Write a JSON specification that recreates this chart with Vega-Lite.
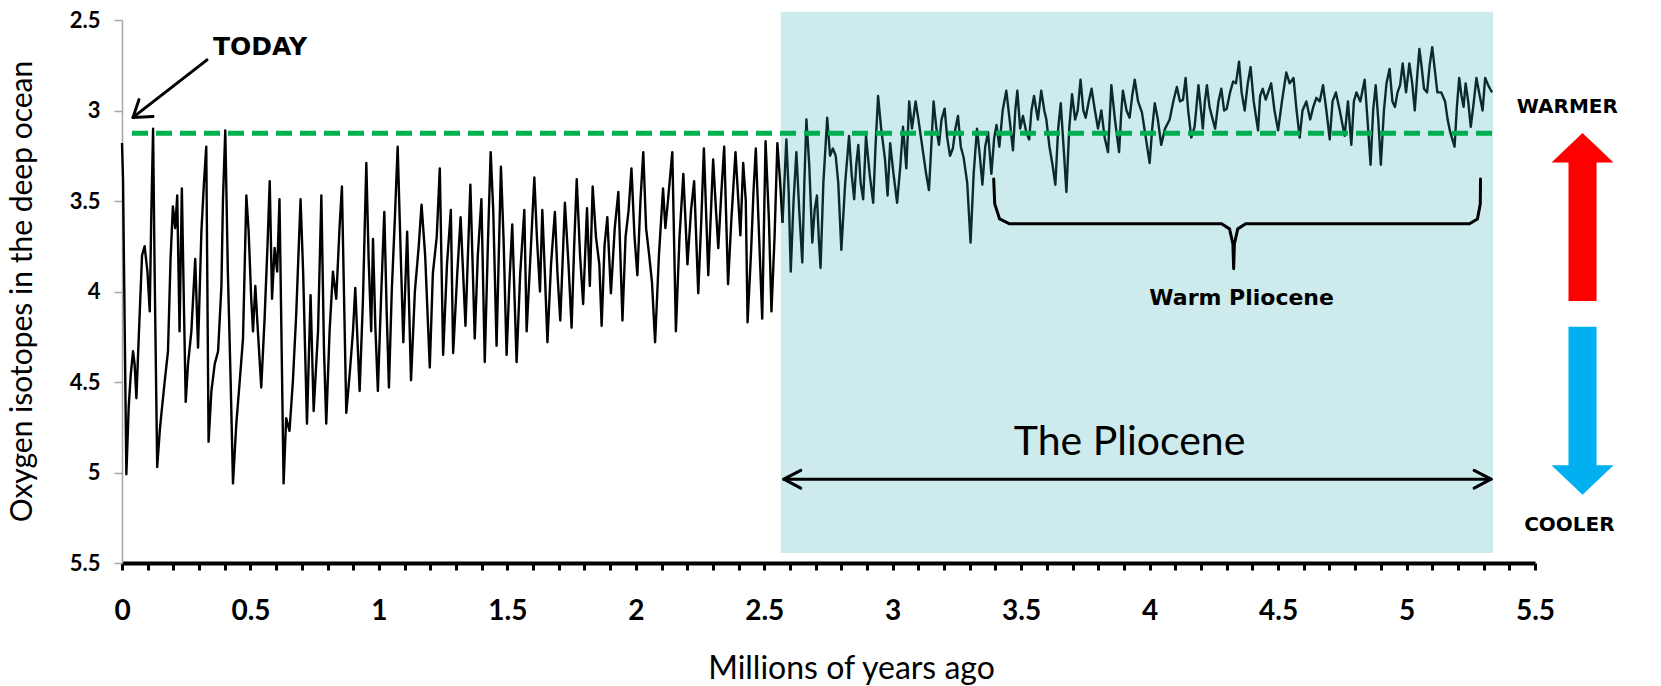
{
"$schema": "https://vega.github.io/schema/vega-lite/v6.json",
"width": 1413, "height": 543,
"autosize": {"type": "none"},
"padding": {"left": 122, "top": 20, "right": 126, "bottom": 123},
"background": "white",
"config": {"view": {"stroke": null}},
"encoding": {
  "x": {"field": "x", "type": "quantitative",
    "scale": {"domain": [0, 5.5], "nice": false, "zero": false},
    "axis": {"title": "Millions of years ago", "grid": false,
      "values": [0,0.1,0.2,0.3,0.4,0.5,0.6,0.7,0.8,0.9,1,1.1,1.2,1.3,1.4,1.5,1.6,1.7,1.8,1.9,2,2.1,2.2,2.3,2.4,2.5,2.6,2.7,2.8,2.9,3,3.1,3.2,3.3,3.4,3.5,3.6,3.7,3.8,3.9,4,4.1,4.2,4.3,4.4,4.5,4.6,4.7,4.8,4.9,5,5.1,5.2,5.3,5.4,5.5],
      "labelExpr": "abs(datum.value*2 - round(datum.value*2)) < 0.001 ? '' + datum.value : ''",
      "labelOverlap": false, "labelFlush": false,
      "labelFont": "Lato", "labelFontWeight": "bold", "labelFontSize": 28, "labelColor": "#000000",
      "labelBaseline": "middle", "labelPadding": 41,
      "domainColor": "#000000", "domainWidth": 4, "tickColor": "#000000", "tickWidth": 3, "tickSize": 7,
      "titleFont": "Lato", "titleFontWeight": "normal", "titleFontSize": 32, "titleColor": "#000000",
      "titleX": 729, "titleY": 115, "titleBaseline": "alphabetic"}},
  "y": {"field": "y", "type": "quantitative",
    "scale": {"domain": [2.5, 5.5], "nice": false, "zero": false, "reverse": true},
    "axis": {"title": "Oxygen isotopes in the deep ocean", "grid": false,
      "values": [2.5,3,3.5,4,4.5,5,5.5],
      "labelExpr": "'' + datum.value",
      "labelFont": "Lato", "labelFontWeight": "bold", "labelFontSize": 22, "labelColor": "#000000",
      "labelPadding": 14, "labelOverlap": false, "labelFlush": false,
      "domainColor": "#a6a6a6", "domainWidth": 1.5, "tickColor": "#a6a6a6", "tickWidth": 1.5, "tickSize": 8,
      "titleFont": "Lato", "titleFontWeight": "normal", "titleFontSize": 30, "titleColor": "#000000",
      "titleX": -91, "titleY": 271, "titleBaseline": "alphabetic", "titleAngle": -90}}
},
"layer": [
  {"data": {"values": [{"x": 2.564, "x2": 5.337, "y": 2.454, "y2": 5.445}]},
   "mark": {"type": "rect", "color": "#cdeaed"},
   "encoding": {"x2": {"field": "x2"}, "y2": {"field": "y2"}}},
  {"data": {"values": [
{"x":0,"y":3.18,"seg":"a"},{"x":0.004,"y":3.38,"seg":"a"},{"x":0.017,"y":5.01,"seg":"a"},{"x":0.026,"y":4.64,"seg":"a"},{"x":0.034,"y":4.46,"seg":"a"},{"x":0.043,"y":4.33,"seg":"a"},{"x":0.049,"y":4.40,"seg":"a"},{"x":0.056,"y":4.59,"seg":"a"},{"x":0.065,"y":4.26,"seg":"a"},{"x":0.078,"y":3.80,"seg":"a"},{"x":0.088,"y":3.75,"seg":"a"},{"x":0.099,"y":3.89,"seg":"a"},{"x":0.108,"y":4.11,"seg":"a"},{"x":0.114,"y":3.58,"seg":"a"},{"x":0.121,"y":3.10,"seg":"a"},{"x":0.127,"y":3.89,"seg":"a"},{"x":0.137,"y":4.97,"seg":"a"},{"x":0.147,"y":4.77,"seg":"a"},{"x":0.153,"y":4.68,"seg":"a"},{"x":0.166,"y":4.50,"seg":"a"},{"x":0.179,"y":4.33,"seg":"a"},{"x":0.189,"y":3.82,"seg":"a"},{"x":0.198,"y":3.53,"seg":"a"},{"x":0.207,"y":3.65,"seg":"a"},{"x":0.215,"y":3.47,"seg":"a"},{"x":0.224,"y":4.22,"seg":"a"},{"x":0.233,"y":3.43,"seg":"a"},{"x":0.241,"y":4.08,"seg":"a"},{"x":0.248,"y":4.61,"seg":"a"},{"x":0.257,"y":4.40,"seg":"a"},{"x":0.270,"y":4.22,"seg":"a"},{"x":0.285,"y":3.82,"seg":"a"},{"x":0.296,"y":4.31,"seg":"a"},{"x":0.309,"y":3.67,"seg":"a"},{"x":0.319,"y":3.40,"seg":"a"},{"x":0.328,"y":3.20,"seg":"a"},{"x":0.337,"y":4.83,"seg":"a"},{"x":0.348,"y":4.55,"seg":"a"},{"x":0.361,"y":4.40,"seg":"a"},{"x":0.374,"y":4.33,"seg":"a"},{"x":0.387,"y":3.97,"seg":"a"},{"x":0.393,"y":3.49,"seg":"a"},{"x":0.402,"y":3.11,"seg":"a"},{"x":0.412,"y":3.89,"seg":"a"},{"x":0.423,"y":4.50,"seg":"a"},{"x":0.432,"y":5.06,"seg":"a"},{"x":0.445,"y":4.73,"seg":"a"},{"x":0.458,"y":4.50,"seg":"a"},{"x":0.471,"y":4.26,"seg":"a"},{"x":0.484,"y":3.47,"seg":"a"},{"x":0.493,"y":3.67,"seg":"a"},{"x":0.503,"y":4.04,"seg":"a"},{"x":0.510,"y":4.22,"seg":"a"},{"x":0.519,"y":3.97,"seg":"a"},{"x":0.529,"y":4.22,"seg":"a"},{"x":0.542,"y":4.53,"seg":"a"},{"x":0.555,"y":4.15,"seg":"a"},{"x":0.566,"y":3.76,"seg":"a"},{"x":0.575,"y":3.39,"seg":"a"},{"x":0.584,"y":4.04,"seg":"a"},{"x":0.594,"y":3.76,"seg":"a"},{"x":0.604,"y":3.89,"seg":"a"},{"x":0.613,"y":3.49,"seg":"a"},{"x":0.629,"y":5.06,"seg":"a"},{"x":0.639,"y":4.70,"seg":"a"},{"x":0.652,"y":4.77,"seg":"a"},{"x":0.665,"y":4.50,"seg":"a"},{"x":0.678,"y":4.13,"seg":"a"},{"x":0.695,"y":3.49,"seg":"a"},{"x":0.705,"y":3.89,"seg":"a"},{"x":0.720,"y":4.73,"seg":"a"},{"x":0.734,"y":4.02,"seg":"a"},{"x":0.746,"y":4.66,"seg":"a"},{"x":0.763,"y":4.22,"seg":"a"},{"x":0.776,"y":3.47,"seg":"a"},{"x":0.786,"y":4.31,"seg":"a"},{"x":0.795,"y":4.73,"seg":"a"},{"x":0.808,"y":4.22,"seg":"a"},{"x":0.821,"y":3.89,"seg":"a"},{"x":0.834,"y":4.04,"seg":"a"},{"x":0.847,"y":3.64,"seg":"a"},{"x":0.856,"y":3.42,"seg":"a"},{"x":0.873,"y":4.67,"seg":"a"},{"x":0.886,"y":4.46,"seg":"a"},{"x":0.899,"y":4.22,"seg":"a"},{"x":0.908,"y":3.98,"seg":"a"},{"x":0.925,"y":4.55,"seg":"a"},{"x":0.938,"y":4.04,"seg":"a"},{"x":0.951,"y":3.29,"seg":"a"},{"x":0.960,"y":3.82,"seg":"a"},{"x":0.970,"y":4.22,"seg":"a"},{"x":0.977,"y":3.71,"seg":"a"},{"x":0.986,"y":4.19,"seg":"a"},{"x":0.996,"y":4.55,"seg":"a"},{"x":1.008,"y":4.05,"seg":"a"},{"x":1.021,"y":3.56,"seg":"a"},{"x":1.030,"y":4.10,"seg":"a"},{"x":1.039,"y":4.53,"seg":"a"},{"x":1.050,"y":4.00,"seg":"a"},{"x":1.062,"y":3.60,"seg":"a"},{"x":1.073,"y":3.20,"seg":"a"},{"x":1.085,"y":3.80,"seg":"a"},{"x":1.095,"y":4.28,"seg":"a"},{"x":1.110,"y":3.67,"seg":"a"},{"x":1.125,"y":4.49,"seg":"a"},{"x":1.140,"y":4.00,"seg":"a"},{"x":1.155,"y":3.75,"seg":"a"},{"x":1.166,"y":3.52,"seg":"a"},{"x":1.180,"y":3.80,"seg":"a"},{"x":1.198,"y":4.42,"seg":"a"},{"x":1.210,"y":3.90,"seg":"a"},{"x":1.225,"y":3.70,"seg":"a"},{"x":1.237,"y":3.32,"seg":"a"},{"x":1.250,"y":4.35,"seg":"a"},{"x":1.265,"y":3.85,"seg":"a"},{"x":1.280,"y":3.55,"seg":"a"},{"x":1.289,"y":4.34,"seg":"a"},{"x":1.305,"y":3.90,"seg":"a"},{"x":1.318,"y":3.59,"seg":"a"},{"x":1.337,"y":4.19,"seg":"a"},{"x":1.356,"y":3.41,"seg":"a"},{"x":1.373,"y":4.26,"seg":"a"},{"x":1.385,"y":3.80,"seg":"a"},{"x":1.399,"y":3.49,"seg":"a"},{"x":1.412,"y":4.39,"seg":"a"},{"x":1.425,"y":3.70,"seg":"a"},{"x":1.435,"y":3.23,"seg":"a"},{"x":1.445,"y":3.55,"seg":"a"},{"x":1.458,"y":4.30,"seg":"a"},{"x":1.475,"y":3.31,"seg":"a"},{"x":1.485,"y":3.70,"seg":"a"},{"x":1.497,"y":4.35,"seg":"a"},{"x":1.508,"y":3.95,"seg":"a"},{"x":1.519,"y":3.63,"seg":"a"},{"x":1.536,"y":4.39,"seg":"a"},{"x":1.550,"y":3.90,"seg":"a"},{"x":1.566,"y":3.55,"seg":"a"},{"x":1.575,"y":4.22,"seg":"a"},{"x":1.590,"y":3.80,"seg":"a"},{"x":1.605,"y":3.37,"seg":"a"},{"x":1.615,"y":3.70,"seg":"a"},{"x":1.627,"y":4.00,"seg":"a"},{"x":1.636,"y":3.55,"seg":"a"},{"x":1.646,"y":3.90,"seg":"a"},{"x":1.656,"y":4.28,"seg":"a"},{"x":1.670,"y":3.85,"seg":"a"},{"x":1.685,"y":3.56,"seg":"a"},{"x":1.695,"y":3.90,"seg":"a"},{"x":1.706,"y":4.16,"seg":"a"},{"x":1.724,"y":3.51,"seg":"a"},{"x":1.738,"y":3.85,"seg":"a"},{"x":1.750,"y":4.20,"seg":"a"},{"x":1.760,"y":3.75,"seg":"a"},{"x":1.770,"y":3.38,"seg":"a"},{"x":1.783,"y":3.80,"seg":"a"},{"x":1.795,"y":4.07,"seg":"a"},{"x":1.810,"y":3.54,"seg":"a"},{"x":1.821,"y":3.97,"seg":"a"},{"x":1.832,"y":3.42,"seg":"a"},{"x":1.845,"y":3.70,"seg":"a"},{"x":1.858,"y":3.85,"seg":"a"},{"x":1.867,"y":4.19,"seg":"a"},{"x":1.878,"y":3.75,"seg":"a"},{"x":1.889,"y":3.59,"seg":"a"},{"x":1.903,"y":4.01,"seg":"a"},{"x":1.918,"y":3.65,"seg":"a"},{"x":1.932,"y":3.45,"seg":"a"},{"x":1.948,"y":4.16,"seg":"a"},{"x":1.960,"y":3.70,"seg":"a"},{"x":1.972,"y":3.55,"seg":"a"},{"x":1.983,"y":3.32,"seg":"a"},{"x":1.995,"y":3.70,"seg":"a"},{"x":2.006,"y":3.91,"seg":"a"},{"x":2.018,"y":3.50,"seg":"a"},{"x":2.029,"y":3.23,"seg":"a"},{"x":2.040,"y":3.65,"seg":"a"},{"x":2.052,"y":3.80,"seg":"a"},{"x":2.063,"y":3.95,"seg":"a"},{"x":2.075,"y":4.28,"seg":"a"},{"x":2.090,"y":3.80,"seg":"a"},{"x":2.106,"y":3.43,"seg":"a"},{"x":2.115,"y":3.65,"seg":"a"},{"x":2.125,"y":3.50,"seg":"a"},{"x":2.142,"y":3.23,"seg":"a"},{"x":2.156,"y":4.22,"seg":"a"},{"x":2.170,"y":3.70,"seg":"a"},{"x":2.185,"y":3.35,"seg":"a"},{"x":2.201,"y":3.85,"seg":"a"},{"x":2.215,"y":3.55,"seg":"a"},{"x":2.227,"y":3.39,"seg":"a"},{"x":2.243,"y":4.01,"seg":"a"},{"x":2.255,"y":3.60,"seg":"a"},{"x":2.265,"y":3.21,"seg":"a"},{"x":2.282,"y":3.91,"seg":"a"},{"x":2.301,"y":3.27,"seg":"a"},{"x":2.312,"y":3.55,"seg":"a"},{"x":2.321,"y":3.76,"seg":"a"},{"x":2.333,"y":3.45,"seg":"a"},{"x":2.344,"y":3.20,"seg":"a"},{"x":2.359,"y":3.96,"seg":"a"},{"x":2.372,"y":3.60,"seg":"a"},{"x":2.388,"y":3.23,"seg":"a"},{"x":2.407,"y":3.69,"seg":"a"},{"x":2.418,"y":3.29,"seg":"a"},{"x":2.428,"y":3.50,"seg":"a"},{"x":2.435,"y":4.17,"seg":"a"},{"x":2.448,"y":3.80,"seg":"a"},{"x":2.458,"y":3.45,"seg":"a"},{"x":2.467,"y":3.21,"seg":"a"},{"x":2.480,"y":3.70,"seg":"a"},{"x":2.492,"y":4.15,"seg":"a"},{"x":2.505,"y":3.17,"seg":"a"},{"x":2.518,"y":3.60,"seg":"a"},{"x":2.528,"y":4.11,"seg":"a"},{"x":2.540,"y":3.70,"seg":"a"},{"x":2.551,"y":3.18,"seg":"a"},{"x":2.562,"y":3.40,"seg":"a"},{"x":2.571,"y":3.62,"seg":"a"},
{"x":2.571,"y":3.62,"seg":"b"},{"x":2.586,"y":3.16,"seg":"b"},{"x":2.595,"y":3.45,"seg":"b"},{"x":2.603,"y":3.89,"seg":"b"},{"x":2.614,"y":3.50,"seg":"b"},{"x":2.625,"y":3.23,"seg":"b"},{"x":2.636,"y":3.55,"seg":"b"},{"x":2.648,"y":3.84,"seg":"b"},{"x":2.656,"y":3.40,"seg":"b"},{"x":2.664,"y":3.05,"seg":"b"},{"x":2.675,"y":3.30,"seg":"b"},{"x":2.687,"y":3.73,"seg":"b"},{"x":2.696,"y":3.55,"seg":"b"},{"x":2.705,"y":3.47,"seg":"b"},{"x":2.712,"y":3.70,"seg":"b"},{"x":2.719,"y":3.87,"seg":"b"},{"x":2.730,"y":3.40,"seg":"b"},{"x":2.745,"y":3.04,"seg":"b"},{"x":2.756,"y":3.25,"seg":"b"},{"x":2.767,"y":3.21,"seg":"b"},{"x":2.778,"y":3.25,"seg":"b"},{"x":2.788,"y":3.40,"seg":"b"},{"x":2.800,"y":3.77,"seg":"b"},{"x":2.815,"y":3.40,"seg":"b"},{"x":2.830,"y":3.14,"seg":"b"},{"x":2.840,"y":3.35,"seg":"b"},{"x":2.850,"y":3.49,"seg":"b"},{"x":2.858,"y":3.30,"seg":"b"},{"x":2.866,"y":3.19,"seg":"b"},{"x":2.875,"y":3.40,"seg":"b"},{"x":2.885,"y":3.49,"seg":"b"},{"x":2.896,"y":3.14,"seg":"b"},{"x":2.910,"y":3.35,"seg":"b"},{"x":2.924,"y":3.51,"seg":"b"},{"x":2.933,"y":3.20,"seg":"b"},{"x":2.943,"y":2.92,"seg":"b"},{"x":2.955,"y":3.10,"seg":"b"},{"x":2.970,"y":3.27,"seg":"b"},{"x":2.980,"y":3.47,"seg":"b"},{"x":2.990,"y":3.18,"seg":"b"},{"x":3.003,"y":3.35,"seg":"b"},{"x":3.017,"y":3.51,"seg":"b"},{"x":3.030,"y":3.30,"seg":"b"},{"x":3.040,"y":3.09,"seg":"b"},{"x":3.053,"y":3.32,"seg":"b"},{"x":3.064,"y":2.95,"seg":"b"},{"x":3.075,"y":3.10,"seg":"b"},{"x":3.089,"y":2.95,"seg":"b"},{"x":3.100,"y":3.05,"seg":"b"},{"x":3.115,"y":3.20,"seg":"b"},{"x":3.130,"y":3.35,"seg":"b"},{"x":3.141,"y":3.44,"seg":"b"},{"x":3.150,"y":3.20,"seg":"b"},{"x":3.159,"y":2.95,"seg":"b"},{"x":3.170,"y":3.10,"seg":"b"},{"x":3.180,"y":3.19,"seg":"b"},{"x":3.190,"y":3.05,"seg":"b"},{"x":3.202,"y":2.99,"seg":"b"},{"x":3.212,"y":3.15,"seg":"b"},{"x":3.223,"y":3.25,"seg":"b"},{"x":3.234,"y":3.21,"seg":"b"},{"x":3.244,"y":3.10,"seg":"b"},{"x":3.254,"y":3.03,"seg":"b"},{"x":3.265,"y":3.20,"seg":"b"},{"x":3.276,"y":3.26,"seg":"b"},{"x":3.290,"y":3.40,"seg":"b"},{"x":3.303,"y":3.73,"seg":"b"},{"x":3.315,"y":3.35,"seg":"b"},{"x":3.328,"y":3.10,"seg":"b"},{"x":3.339,"y":3.25,"seg":"b"},{"x":3.349,"y":3.41,"seg":"b"},{"x":3.360,"y":3.20,"seg":"b"},{"x":3.371,"y":3.12,"seg":"b"},{"x":3.384,"y":3.35,"seg":"b"},{"x":3.395,"y":3.15,"seg":"b"},{"x":3.404,"y":3.08,"seg":"b"},{"x":3.415,"y":3.20,"seg":"b"},{"x":3.428,"y":3.00,"seg":"b"},{"x":3.442,"y":2.89,"seg":"b"},{"x":3.455,"y":3.05,"seg":"b"},{"x":3.468,"y":3.22,"seg":"b"},{"x":3.477,"y":3.00,"seg":"b"},{"x":3.485,"y":2.89,"seg":"b"},{"x":3.496,"y":3.10,"seg":"b"},{"x":3.507,"y":3.03,"seg":"b"},{"x":3.520,"y":3.12,"seg":"b"},{"x":3.531,"y":3.16,"seg":"b"},{"x":3.540,"y":3.00,"seg":"b"},{"x":3.550,"y":2.92,"seg":"b"},{"x":3.565,"y":3.05,"seg":"b"},{"x":3.578,"y":2.89,"seg":"b"},{"x":3.590,"y":3.00,"seg":"b"},{"x":3.598,"y":3.05,"seg":"b"},{"x":3.610,"y":3.20,"seg":"b"},{"x":3.622,"y":3.30,"seg":"b"},{"x":3.633,"y":3.41,"seg":"b"},{"x":3.644,"y":3.10,"seg":"b"},{"x":3.654,"y":2.96,"seg":"b"},{"x":3.665,"y":3.20,"seg":"b"},{"x":3.676,"y":3.45,"seg":"b"},{"x":3.687,"y":3.10,"seg":"b"},{"x":3.698,"y":2.91,"seg":"b"},{"x":3.710,"y":3.05,"seg":"b"},{"x":3.720,"y":3.00,"seg":"b"},{"x":3.731,"y":2.83,"seg":"b"},{"x":3.742,"y":3.00,"seg":"b"},{"x":3.751,"y":3.04,"seg":"b"},{"x":3.763,"y":2.95,"seg":"b"},{"x":3.774,"y":2.88,"seg":"b"},{"x":3.787,"y":3.00,"seg":"b"},{"x":3.799,"y":3.10,"seg":"b"},{"x":3.812,"y":3.00,"seg":"b"},{"x":3.825,"y":3.15,"seg":"b"},{"x":3.838,"y":3.23,"seg":"b"},{"x":3.851,"y":2.86,"seg":"b"},{"x":3.865,"y":3.05,"seg":"b"},{"x":3.881,"y":3.23,"seg":"b"},{"x":3.890,"y":3.00,"seg":"b"},{"x":3.896,"y":2.89,"seg":"b"},{"x":3.910,"y":3.00,"seg":"b"},{"x":3.922,"y":3.04,"seg":"b"},{"x":3.932,"y":2.92,"seg":"b"},{"x":3.942,"y":2.83,"seg":"b"},{"x":3.955,"y":2.95,"seg":"b"},{"x":3.970,"y":3.01,"seg":"b"},{"x":3.985,"y":3.15,"seg":"b"},{"x":4.000,"y":3.29,"seg":"b"},{"x":4.010,"y":3.10,"seg":"b"},{"x":4.020,"y":2.96,"seg":"b"},{"x":4.032,"y":3.05,"seg":"b"},{"x":4.045,"y":3.19,"seg":"b"},{"x":4.060,"y":3.10,"seg":"b"},{"x":4.078,"y":3.05,"seg":"b"},{"x":4.092,"y":2.95,"seg":"b"},{"x":4.106,"y":2.87,"seg":"b"},{"x":4.118,"y":2.95,"seg":"b"},{"x":4.130,"y":2.94,"seg":"b"},{"x":4.140,"y":2.82,"seg":"b"},{"x":4.150,"y":3.00,"seg":"b"},{"x":4.162,"y":3.15,"seg":"b"},{"x":4.175,"y":3.09,"seg":"b"},{"x":4.190,"y":2.86,"seg":"b"},{"x":4.200,"y":3.00,"seg":"b"},{"x":4.207,"y":3.10,"seg":"b"},{"x":4.215,"y":2.95,"seg":"b"},{"x":4.223,"y":2.86,"seg":"b"},{"x":4.233,"y":2.98,"seg":"b"},{"x":4.242,"y":3.03,"seg":"b"},{"x":4.255,"y":3.10,"seg":"b"},{"x":4.268,"y":2.95,"seg":"b"},{"x":4.279,"y":2.88,"seg":"b"},{"x":4.290,"y":3.00,"seg":"b"},{"x":4.300,"y":2.99,"seg":"b"},{"x":4.313,"y":2.90,"seg":"b"},{"x":4.325,"y":2.84,"seg":"b"},{"x":4.336,"y":2.85,"seg":"b"},{"x":4.348,"y":2.73,"seg":"b"},{"x":4.358,"y":2.90,"seg":"b"},{"x":4.370,"y":3.00,"seg":"b"},{"x":4.382,"y":2.85,"seg":"b"},{"x":4.393,"y":2.76,"seg":"b"},{"x":4.405,"y":2.95,"seg":"b"},{"x":4.422,"y":3.11,"seg":"b"},{"x":4.430,"y":2.92,"seg":"b"},{"x":4.440,"y":2.88,"seg":"b"},{"x":4.452,"y":2.94,"seg":"b"},{"x":4.473,"y":2.85,"seg":"b"},{"x":4.486,"y":3.00,"seg":"b"},{"x":4.500,"y":3.11,"seg":"b"},{"x":4.515,"y":2.95,"seg":"b"},{"x":4.532,"y":2.79,"seg":"b"},{"x":4.545,"y":2.85,"seg":"b"},{"x":4.560,"y":2.82,"seg":"b"},{"x":4.572,"y":3.00,"seg":"b"},{"x":4.584,"y":3.15,"seg":"b"},{"x":4.595,"y":3.00,"seg":"b"},{"x":4.610,"y":2.95,"seg":"b"},{"x":4.625,"y":3.05,"seg":"b"},{"x":4.637,"y":2.98,"seg":"b"},{"x":4.649,"y":2.93,"seg":"b"},{"x":4.662,"y":2.95,"seg":"b"},{"x":4.675,"y":2.86,"seg":"b"},{"x":4.688,"y":3.00,"seg":"b"},{"x":4.701,"y":3.16,"seg":"b"},{"x":4.712,"y":2.95,"seg":"b"},{"x":4.725,"y":2.90,"seg":"b"},{"x":4.740,"y":3.00,"seg":"b"},{"x":4.759,"y":3.14,"seg":"b"},{"x":4.772,"y":2.95,"seg":"b"},{"x":4.785,"y":3.19,"seg":"b"},{"x":4.795,"y":2.95,"seg":"b"},{"x":4.805,"y":2.90,"seg":"b"},{"x":4.820,"y":2.95,"seg":"b"},{"x":4.837,"y":2.83,"seg":"b"},{"x":4.848,"y":3.05,"seg":"b"},{"x":4.860,"y":3.30,"seg":"b"},{"x":4.870,"y":3.00,"seg":"b"},{"x":4.880,"y":2.86,"seg":"b"},{"x":4.890,"y":3.05,"seg":"b"},{"x":4.900,"y":3.30,"seg":"b"},{"x":4.912,"y":3.00,"seg":"b"},{"x":4.922,"y":2.85,"seg":"b"},{"x":4.934,"y":2.77,"seg":"b"},{"x":4.945,"y":2.95,"seg":"b"},{"x":4.955,"y":2.98,"seg":"b"},{"x":4.965,"y":2.90,"seg":"b"},{"x":4.975,"y":2.86,"seg":"b"},{"x":4.985,"y":2.74,"seg":"b"},{"x":4.998,"y":2.90,"seg":"b"},{"x":5.011,"y":2.74,"seg":"b"},{"x":5.022,"y":2.85,"seg":"b"},{"x":5.032,"y":3.00,"seg":"b"},{"x":5.042,"y":2.80,"seg":"b"},{"x":5.050,"y":2.66,"seg":"b"},{"x":5.058,"y":2.75,"seg":"b"},{"x":5.068,"y":2.88,"seg":"b"},{"x":5.080,"y":2.90,"seg":"b"},{"x":5.090,"y":2.75,"seg":"b"},{"x":5.100,"y":2.65,"seg":"b"},{"x":5.112,"y":2.80,"seg":"b"},{"x":5.120,"y":2.90,"seg":"b"},{"x":5.135,"y":2.90,"seg":"b"},{"x":5.150,"y":2.95,"seg":"b"},{"x":5.160,"y":3.05,"seg":"b"},{"x":5.170,"y":3.12,"seg":"b"},{"x":5.187,"y":3.20,"seg":"b"},{"x":5.196,"y":2.98,"seg":"b"},{"x":5.205,"y":2.82,"seg":"b"},{"x":5.214,"y":2.92,"seg":"b"},{"x":5.222,"y":2.98,"seg":"b"},{"x":5.230,"y":2.85,"seg":"b"},{"x":5.240,"y":2.95,"seg":"b"},{"x":5.250,"y":3.09,"seg":"b"},{"x":5.262,"y":2.95,"seg":"b"},{"x":5.272,"y":2.82,"seg":"b"},{"x":5.285,"y":2.92,"seg":"b"},{"x":5.296,"y":3.00,"seg":"b"},{"x":5.306,"y":2.82,"seg":"b"},{"x":5.318,"y":2.86,"seg":"b"},{"x":5.325,"y":2.88,"seg":"b"},{"x":5.333,"y":2.90,"seg":"b"}
  ]},
   "mark": {"type": "line", "strokeWidth": 2.4, "strokeJoin": "round"},
   "encoding": {"color": {"field": "seg", "type": "nominal", "legend": null,
      "scale": {"domain": ["a", "b"], "range": ["#000000", "#0c2a2b"]}}}},
  {"data": {"values": [{"x": 0.039, "x2": 5.337, "y": 3.126}]},
   "mark": {"type": "rule", "color": "#00b050", "strokeWidth": 5, "strokeDash": [16, 8]},
   "encoding": {"x2": {"field": "x2"}}},
  {"data": {"values": [
    {"id": "today", "o": 1, "x": 0.331, "y": 2.720}, {"id": "today", "o": 2, "x": 0.0428, "y": 3.038},
    {"id": "todayhead", "o": 1, "x": 0.1206, "y": 3.033}, {"id": "todayhead", "o": 2, "x": 0.0428, "y": 3.038}, {"id": "todayhead", "o": 3, "x": 0.0661, "y": 2.940},
    {"id": "pli", "o": 1, "x": 2.576, "y": 5.037}, {"id": "pli", "o": 2, "x": 5.329, "y": 5.037},
    {"id": "plL", "o": 1, "x": 2.642, "y": 4.988}, {"id": "plL", "o": 2, "x": 2.576, "y": 5.037}, {"id": "plL", "o": 3, "x": 2.642, "y": 5.086},
    {"id": "plR", "o": 1, "x": 5.263, "y": 4.988}, {"id": "plR", "o": 2, "x": 5.329, "y": 5.037}, {"id": "plR", "o": 3, "x": 5.263, "y": 5.086},
    {"id": "brace", "o": 1, "x": 3.393, "y": 3.379}, {"id": "brace", "o": 2, "x": 3.397, "y": 3.516}, {"id": "brace", "o": 3, "x": 3.416, "y": 3.599}, {"id": "brace", "o": 4, "x": 3.455, "y": 3.626},
    {"id": "brace", "o": 5, "x": 4.280, "y": 3.626}, {"id": "brace", "o": 6, "x": 4.311, "y": 3.654}, {"id": "brace", "o": 7, "x": 4.324, "y": 3.736}, {"id": "brace", "o": 8, "x": 4.327, "y": 3.874},
    {"id": "brace", "o": 9, "x": 4.330, "y": 3.736}, {"id": "brace", "o": 10, "x": 4.343, "y": 3.654}, {"id": "brace", "o": 11, "x": 4.374, "y": 3.626},
    {"id": "brace", "o": 12, "x": 5.245, "y": 3.626}, {"id": "brace", "o": 13, "x": 5.276, "y": 3.599}, {"id": "brace", "o": 14, "x": 5.287, "y": 3.516}, {"id": "brace", "o": 15, "x": 5.288, "y": 3.379}
  ]},
   "mark": {"type": "line", "color": "#000000", "strokeWidth": 3, "strokeJoin": "round", "strokeCap": "round"},
   "encoding": {"detail": {"field": "id", "type": "nominal"}, "order": {"field": "o", "type": "quantitative"}}},
  {"data": {"values": [{"x": 0.537, "y": 2.692, "label": "TODAY"}]},
   "mark": {"type": "text", "font": "DejaVu Sans", "fontWeight": "bold", "fontSize": 25, "align": "center", "baseline": "alphabetic", "color": "#000000"},
   "encoding": {"text": {"field": "label"}}},
  {"data": {"values": [{"x": 4.358, "y": 4.075, "label": "Warm Pliocene"}]},
   "mark": {"type": "text", "font": "DejaVu Sans", "fontWeight": "bold", "fontSize": 22, "align": "center", "baseline": "alphabetic", "color": "#000000"},
   "encoding": {"text": {"field": "label"}}},
  {"data": {"values": [{"x": 3.922, "y": 4.901, "label": "The Pliocene"}]},
   "mark": {"type": "text", "font": "Lato", "fontSize": 41, "align": "center", "baseline": "alphabetic", "color": "#000000"},
   "encoding": {"text": {"field": "label"}}},
  {"data": {"values": [{"x": 5.626, "y": 3.014, "label": "WARMER"}, {"x": 5.634, "y": 5.324, "label": "COOLER"}]},
   "mark": {"type": "text", "font": "DejaVu Sans", "fontWeight": "bold", "fontSize": 20, "align": "center", "baseline": "alphabetic", "color": "#000000"},
   "encoding": {"text": {"field": "label"}}},
  {"data": {"values": [{"x": 5.685, "y": 3.589}]},
   "mark": {"type": "point", "shape": "M0,-1L0.369,-0.649L0.167,-0.649L0.167,1L-0.167,1L-0.167,-0.649L-0.369,-0.649Z", "size": 28224, "filled": true, "color": "#ff0000", "opacity": 1, "strokeWidth": 0}},
  {"data": {"values": [{"x": 5.685, "y": 4.659}]},
   "mark": {"type": "point", "shape": "M0,1L0.369,0.649L0.167,0.649L0.167,-1L-0.167,-1L-0.167,0.649L-0.369,0.649Z", "size": 28224, "filled": true, "color": "#00b0f0", "opacity": 1, "strokeWidth": 0}}
]
}
